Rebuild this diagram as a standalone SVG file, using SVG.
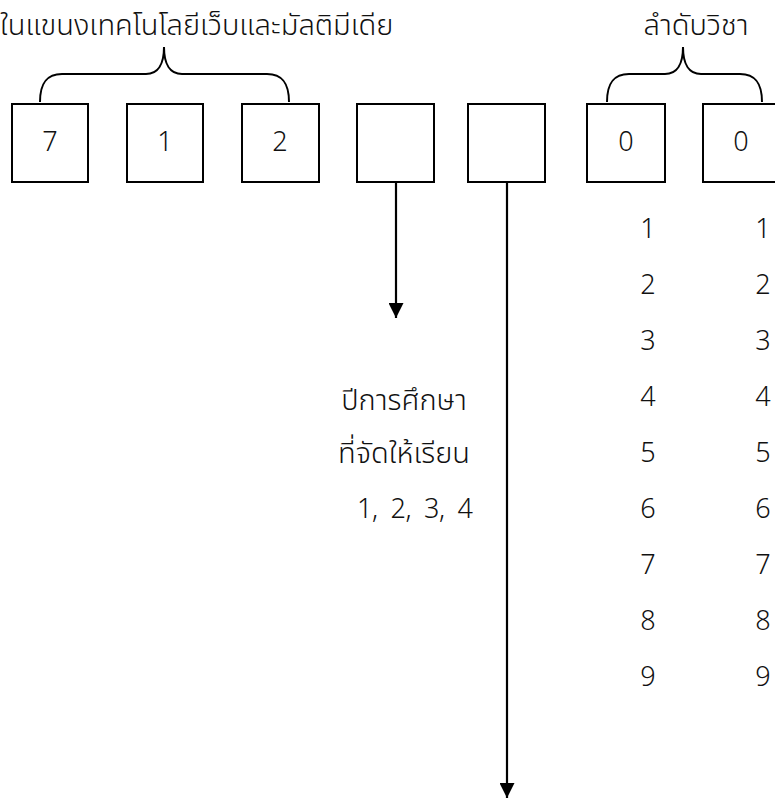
<svg xmlns="http://www.w3.org/2000/svg" width="775" height="798" viewBox="0 0 775 798">
<style>
  .box { fill: #fff; stroke: #000; stroke-width: 2; }
  .brace { fill: none; stroke: #000; stroke-width: 2; }
  .conn { stroke: #000; stroke-width: 2.2; fill: none; }
  text { font-family: "Noto Sans Thai", "Noto Sans", "DejaVu Sans", sans-serif; fill: #111; font-weight: 350; }
  .t { font-size: 29px; }
  .d { font-size: 27px; text-anchor: middle; }
  .c { text-anchor: middle; }
</style>
<defs>
  <marker id="ah" viewBox="0 0 16 15" refX="15" refY="7.5" markerWidth="16" markerHeight="15" markerUnits="userSpaceOnUse" orient="auto">
    <path d="M0,0 L15,7.5 L0,15 Z" fill="#000"/>
  </marker>
</defs>

<g id="label-branch">
  <text class="t" x="0" y="35">ในแขนงเทคโนโลยีเว็บและมัลติมีเดีย</text>
  <path class="brace" d="M40,102 C40,84 46,74 62,74 L146,74 C158,74 164,64 164,47 C164,64 170,74 182,74 L267,74 C283,74 289,84 289,102"/>
</g>
<g id="label-order">
  <text class="t c" x="696" y="35">ลำดับวิชา</text>
  <path class="brace" d="M607,102 C607,84 613,74 629,74 L665,74 C677,74 683,64 683,47 C683,64 689,74 701,74 L740,74 C756,74 762,84 762,102"/>
</g>

<g id="box1"><rect class="box" x="12" y="104" width="76" height="78"/><text class="d" x="50" y="151">7</text></g>
<g id="box2"><rect class="box" x="127" y="104" width="76" height="78"/><text class="d" x="165" y="151">1</text></g>
<g id="box3"><rect class="box" x="242" y="104" width="77" height="78"/><text class="d" x="280" y="151">2</text></g>
<g id="box4"><rect class="box" x="357" y="104" width="77" height="78"/></g>
<g id="box5"><rect class="box" x="468" y="104" width="77" height="78"/></g>
<g id="box6"><rect class="box" x="587" y="104" width="78" height="78"/><text class="d" x="626" y="151">0</text></g>
<g id="box7"><rect class="box" x="703" y="104" width="78" height="78"/><text class="d" x="741" y="151">0</text></g>

<g id="connectors">
  <line class="conn" x1="396" y1="182" x2="396" y2="318" marker-end="url(#ah)"/>
  <line class="conn" x1="507" y1="182" x2="507" y2="798" marker-end="url(#ah)"/>
</g>

<g id="label-year">
  <text class="t c" x="404" y="410">ปีการศึกษา</text>
  <text class="t c" x="404" y="463">ที่จัดให้เรียน</text>
  <text class="d" x="357" y="518" style="text-anchor:start" textLength="116" lengthAdjust="spacing" xml:space="preserve">1,  2,  3,  4</text>
</g>

<g id="digits-col1">
  <text class="d" x="648" y="238">1</text>
  <text class="d" x="648" y="294">2</text>
  <text class="d" x="648" y="350">3</text>
  <text class="d" x="648" y="406">4</text>
  <text class="d" x="648" y="462">5</text>
  <text class="d" x="648" y="518">6</text>
  <text class="d" x="648" y="574">7</text>
  <text class="d" x="648" y="630">8</text>
  <text class="d" x="648" y="686">9</text>
</g>
<g id="digits-col2">
  <text class="d" x="763" y="238">1</text>
  <text class="d" x="763" y="294">2</text>
  <text class="d" x="763" y="350">3</text>
  <text class="d" x="763" y="406">4</text>
  <text class="d" x="763" y="462">5</text>
  <text class="d" x="763" y="518">6</text>
  <text class="d" x="763" y="574">7</text>
  <text class="d" x="763" y="630">8</text>
  <text class="d" x="763" y="686">9</text>
</g>
</svg>
